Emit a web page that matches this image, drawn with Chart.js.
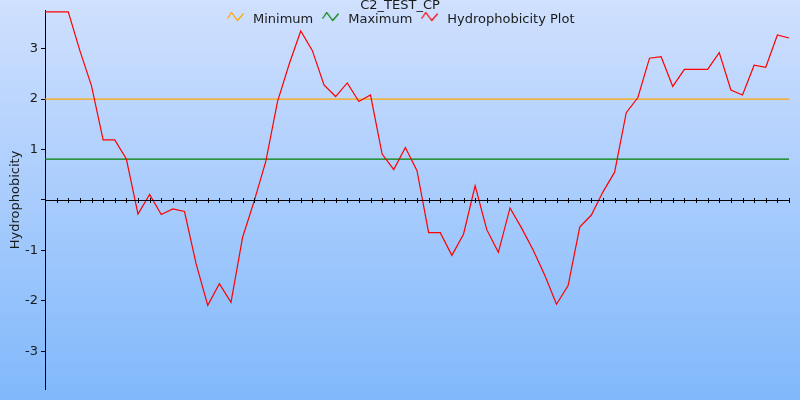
<!DOCTYPE html>
<html>
<head>
<meta charset="utf-8">
<script src="https://cdn.jsdelivr.net/npm/chart.js@4/dist/chart.umd.min.js"></script>
<style>
  html, body { margin: 0; padding: 0; background: #fff; }
  canvas { display: block; }
</style>
</head>
<body>
<canvas id="hydroChart" width="800" height="400"></canvas>
<script>
// valores
const chartTitle = 'C2_TEST_CP';
const hydro = [3.73, 3.73, 3.73, 2.96, 2.26, 1.19, 1.19, 0.81, -0.28, 0.11,
    -0.29, -0.18, -0.23, -1.27, -2.09, -1.66, -2.03, -0.74, -0.02, 0.77,
    1.95, 2.69, 3.35, 2.96, 2.28, 2.05, 2.32, 1.95, 2.08, 0.91,
    0.60, 1.04, 0.58, -0.65, -0.65, -1.10, -0.68, 0.28, -0.59, -1.04,
    -0.16, -0.56, -1.00, -1.50, -2.07, -1.70, -0.54, -0.30, 0.16, 0.55,
    1.73, 2.03, 2.81, 2.84, 2.25, 2.59, 2.59, 2.59, 2.92, 2.18,
    2.08, 2.67, 2.63, 3.27, 3.21];
const positions = hydro.map((_, i) => i + 1);
const minLevel = 2.0;
const maxLevel = 0.81;
const yTicks = [-3, -2, -1, 0, 1, 2, 3];

const FONT = 'DejaVu Sans';
const TEXT = '#1a1a1a';

// ícone em zigue-zague da legenda
function zigzag(color) {
    const c = document.createElement('canvas');
    c.width = 17; c.height = 10;
    const g = c.getContext('2d');
    g.strokeStyle = color;
    g.lineWidth = 1.2;
    g.beginPath();
    g.moveTo(0.5, 6.5);
    g.lineTo(4.5, 0.5);
    g.lineTo(10.5, 8.5);
    g.lineTo(16.5, 1.5);
    g.stroke();
    return c;
}

const legendItems = [
    { text: 'Minimum', color: '#ffa500' },
    { text: 'Maximum', color: '#008000' },
    { text: 'Hydrophobicity Plot', color: '#ff0000' }
];

const decor = {
    id: 'decor',
    beforeDraw(chart) {
        const { ctx, width, height } = chart;
        const grad = ctx.createLinearGradient(0, 0, 0, height);
        grad.addColorStop(0, '#d0e0fe');
        grad.addColorStop(1, '#80b8fb');
        ctx.save();
        ctx.fillStyle = grad;
        ctx.fillRect(0, 0, width, height);
        ctx.restore();
    },
    afterDatasetsDraw(chart) {
        const { ctx, chartArea, scales } = chart;
        const y0 = Math.round(scales.y.getPixelForValue(0)) + 0.5;
        ctx.save();
        ctx.strokeStyle = '#000';
        ctx.lineWidth = 1;
        ctx.beginPath();
        ctx.moveTo(chartArea.left, y0);
        ctx.lineTo(chartArea.right, y0);
        for (let i = 1; i < positions.length; i++) {
            const x = Math.round(scales.x.getPixelForValue(i)) + 0.5;
            ctx.moveTo(x, y0 - 2.5);
            ctx.lineTo(x, y0 + 2.5);
        }
        ctx.stroke();
        ctx.restore();
    },
    afterDraw(chart) {
        const { ctx } = chart;
        ctx.save();
        ctx.fillStyle = TEXT;
        ctx.font = '13px "' + FONT + '"';
        ctx.textAlign = 'center';
        ctx.textBaseline = 'alphabetic';
        ctx.fillText(chartTitle, 400, 9);

        ctx.textAlign = 'left';
        let x = 227;
        legendItems.forEach(item => {
            ctx.drawImage(zigzag(item.color), x, 12);
            ctx.fillStyle = TEXT;
            ctx.fillText(item.text, x + 26, 23);
            x += 26 + ctx.measureText(item.text).width + 9;
        });
        ctx.restore();
    }
};

const ctx = document.getElementById('hydroChart').getContext('2d');
const myChart = new Chart(ctx, {
    type: 'line',
    data: {
        labels: positions,
        datasets: [{
            label: 'Minimum',
            data: positions.map(() => minLevel),
            borderColor: '#ffa500',
            borderWidth: 1.2,
            order: 2
        }, {
            label: 'Maximum',
            data: positions.map(() => maxLevel),
            borderColor: '#008000',
            borderWidth: 1.2,
            order: 1
        }, {
            label: 'Hydrophobicity Plot',
            data: hydro,
            borderColor: '#ff0000',
            borderWidth: 1.2,
            order: 0
        }]
    },
    options: {
        responsive: false,
        devicePixelRatio: 1,
        animation: false,
        elements: { point: { radius: 0 }, line: { tension: 0, fill: false } },
        layout: { padding: { top: 10, bottom: 11, right: 11, left: 0 } },
        plugins: {
            legend: { display: false },
            title: { display: false },
            tooltip: { enabled: false }
        },
        scales: {
            x: { display: false, offset: false },
            y: {
                min: -3.75,
                max: 3.75,
                afterFit(scale) { scale.width = 45; },
                afterBuildTicks(scale) { scale.ticks = yTicks.map(v => ({ value: v })); },
                ticks: {
                    color: TEXT,
                    padding: 3,
                    font: { family: FONT, size: 13 },
                    callback: v => (v === 0 ? '' : v)
                },
                grid: { drawOnChartArea: false, tickLength: 4, color: '#000' },
                border: { color: '#000', width: 1 },
                title: {
                    display: true,
                    text: 'Hydrophobicity',
                    color: TEXT,
                    font: { family: FONT, size: 13 },
                    padding: { top: 8, bottom: 0 }
                }
            }
        }
    },
    plugins: [decor]
});
</script>
</body>
</html>
